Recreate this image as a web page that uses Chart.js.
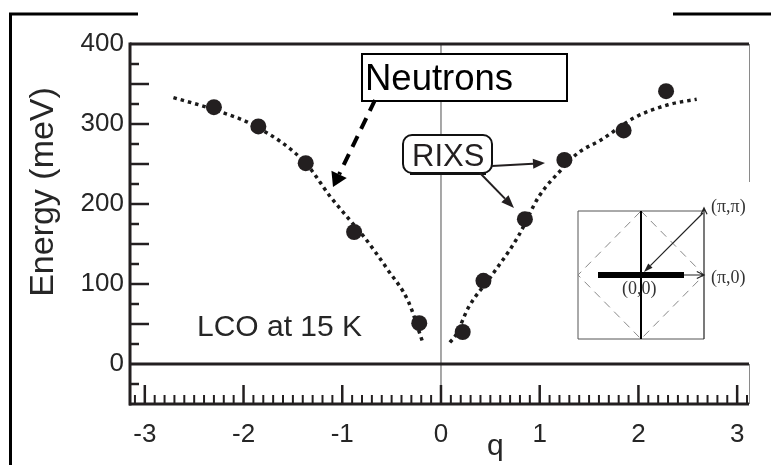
<!DOCTYPE html>
<html>
<head>
<meta charset="utf-8">
<script src="https://cdn.jsdelivr.net/npm/chart.js@4.4.1/dist/chart.umd.min.js"></script>
<style>
  body { margin: 0; background: #fff; }
  canvas { display: block; }
</style>
</head>
<body>
<canvas id="chart" width="771" height="465"></canvas>
<script>
// neutron dispersion (dotted curves)
const neutronLeftQ = [-2.71, -2.30, -1.86, -1.37, -1.12, -0.91, -0.78, -0.54, -0.33, -0.19];
const neutronLeftE = [333, 318, 296, 251, 209, 178, 159, 118, 78, 29];
const neutronRightQ = [0.09, 0.15, 0.28, 0.51, 0.78, 0.99, 1.22, 1.39, 1.62, 1.96, 2.30, 2.59];
const neutronRightE = [27, 36, 71, 110, 159, 209, 243, 264, 280, 308, 324, 331];

// RIXS points (big dots)
const rixsQ = [-2.30, -1.85, -1.37, -0.88, -0.22, 0.22, 0.43, 0.85, 1.25, 1.85, 2.28];
const rixsE = [321, 297, 251, 165, 51, 40, 104, 181, 255, 292, 341];

// axis ticks
const qTickLabels = [-3, -2, -1, 0, 1, 2, 3];
const energyTickLabels = [0, 100, 200, 300, 400];

const ink = "#231f20";
const textColor = "#262626";

function toPoints(xs, ys) {
  return xs.map((x, i) => ({ x: x, y: ys[i] }));
}

// flecha con cabeza rellena
function arrow(ctx, x1, y1, x2, y2, headLen, headW, dash) {
  const ang = Math.atan2(y2 - y1, x2 - x1);
  const bx = x2 - headLen * Math.cos(ang);
  const by = y2 - headLen * Math.sin(ang);
  ctx.setLineDash(dash || []);
  ctx.beginPath();
  ctx.moveTo(x1, y1);
  ctx.lineTo(bx, by);
  ctx.stroke();
  ctx.setLineDash([]);
  ctx.beginPath();
  ctx.moveTo(x2, y2);
  ctx.lineTo(bx + (headW / 2) * Math.sin(ang), by - (headW / 2) * Math.cos(ang));
  ctx.lineTo(bx - (headW / 2) * Math.sin(ang), by + (headW / 2) * Math.cos(ang));
  ctx.closePath();
  ctx.fill();
}

// flecha abierta (inset)
function openArrow(ctx, x1, y1, x2, y2, headLen) {
  const ang = Math.atan2(y2 - y1, x2 - x1);
  ctx.beginPath();
  ctx.moveTo(x1, y1);
  ctx.lineTo(x2, y2);
  ctx.moveTo(x2 - headLen * Math.cos(ang - 0.45), y2 - headLen * Math.sin(ang - 0.45));
  ctx.lineTo(x2, y2);
  ctx.lineTo(x2 - headLen * Math.cos(ang + 0.45), y2 - headLen * Math.sin(ang + 0.45));
  ctx.stroke();
}

function line(ctx, x1, y1, x2, y2) {
  ctx.beginPath();
  ctx.moveTo(x1, y1);
  ctx.lineTo(x2, y2);
  ctx.stroke();
}

const framePlugin = {
  id: "framePlugin",
  beforeDatasetsDraw(chart) {
    const ctx = chart.ctx;
    const a = chart.chartArea;
    const xs = chart.scales.x;
    const ys = chart.scales.y;
    ctx.save();
    // q = 0 line
    ctx.strokeStyle = "#8a8a8a";
    ctx.lineWidth = 1.5;
    const x0 = xs.getPixelForValue(0);
    line(ctx, x0, a.top, x0, a.bottom);
    // E = 0 line
    ctx.strokeStyle = ink;
    ctx.lineWidth = 3;
    const y0 = ys.getPixelForValue(0);
    line(ctx, a.left, y0, a.right, y0);
    ctx.restore();
  },
  afterDraw(chart) {
    const ctx = chart.ctx;
    const a = chart.chartArea;
    const xs = chart.scales.x;
    const ys = chart.scales.y;
    ctx.save();

    // marco de los ejes
    ctx.strokeStyle = ink;
    ctx.lineWidth = 3;
    line(ctx, a.left, a.top, a.right, a.top);
    line(ctx, a.left - 1, a.bottom, a.right, a.bottom);
    line(ctx, a.left, a.top - 1.5, a.left, a.bottom + 1.5);
    ctx.strokeStyle = "#8a8a8a";
    ctx.lineWidth = 1;
    line(ctx, a.right + 0.5, a.top, a.right + 0.5, 182);
    line(ctx, a.right + 0.5, ys.getPixelForValue(0), a.right + 0.5, a.bottom);

    // ticks hacia dentro (x)
    ctx.strokeStyle = ink;
    for (let i = -31; i <= 31; i++) {
      const px = xs.getPixelForValue(i / 10);
      const major = i % 10 === 0;
      ctx.lineWidth = major ? 2.5 : 2;
      line(ctx, px, a.bottom, px, a.bottom - (major ? 19 : 9));
    }
    // ticks hacia dentro (y)
    for (let v = -25; v < 400; v += 25) {
      if (v === 0) continue;
      const py = ys.getPixelForValue(v);
      const major = v % 50 === 0;
      ctx.lineWidth = 2.5;
      line(ctx, a.left, py, a.left + (major ? 19 : 9), py);
    }

    // marco exterior
    ctx.strokeStyle = "#000";
    ctx.lineWidth = 3;
    line(ctx, 9, 14, 138, 14);
    line(ctx, 10.5, 13, 10.5, 465);
    line(ctx, 673, 14, 771, 14);

    // titulo eje y
    ctx.fillStyle = textColor;
    ctx.save();
    ctx.translate(53, 192);
    ctx.rotate(-Math.PI / 2);
    ctx.font = "34px 'Liberation Sans', Arial, sans-serif";
    ctx.textAlign = "center";
    ctx.textBaseline = "alphabetic";
    ctx.fillText("Energy (meV)", 0, 0);
    ctx.restore();

    // titulo eje x
    ctx.font = "30px 'Liberation Sans', Arial, sans-serif";
    ctx.textAlign = "left";
    ctx.textBaseline = "alphabetic";
    ctx.fillText("q", 487, 455);

    // LCO
    ctx.fillText("LCO at 15 K", 197, 336);

    // caja Neutrons
    ctx.fillStyle = "#fff";
    ctx.fillRect(362, 54, 205, 47);
    ctx.strokeStyle = "#000";
    ctx.lineWidth = 2;
    ctx.strokeRect(362, 54, 205, 47);
    ctx.fillStyle = "#000";
    ctx.font = "36.5px 'Liberation Sans', Arial, sans-serif";
    ctx.fillText("Neutrons", 365, 90);

    // flecha discontinua
    ctx.strokeStyle = "#000";
    ctx.fillStyle = "#000";
    ctx.lineWidth = 4;
    arrow(ctx, 375, 100, 333, 187, 14, 17, [12, 8]);

    // caja RIXS
    ctx.beginPath();
    ctx.roundRect(403, 135, 89, 38, 9);
    ctx.fillStyle = "#fff";
    ctx.fill();
    ctx.lineWidth = 2;
    ctx.strokeStyle = "#111";
    ctx.stroke();
    ctx.lineWidth = 2;
    line(ctx, 410, 174, 486, 174);
    ctx.fillStyle = ink;
    ctx.font = "31px 'Liberation Sans', Arial, sans-serif";
    ctx.fillText("RIXS", 412, 166);

    // flechas RIXS
    ctx.lineWidth = 2;
    ctx.strokeStyle = ink;
    arrow(ctx, 492, 166, 545, 163, 12, 10);
    arrow(ctx, 480, 173, 514, 208, 13, 10);

    // inset
    const L = 578, T = 211, R = 704, B = 339;
    const cx = (L + R) / 2, cy = (T + B) / 2;
    ctx.fillStyle = "#fff";
    ctx.fillRect(L, T, R - L, B - T);
    ctx.strokeStyle = "#555";
    ctx.lineWidth = 1;
    line(ctx, L, T, R, T);
    line(ctx, L, T, L, B);
    line(ctx, L, B, R, B);
    ctx.strokeStyle = "#888";
    ctx.setLineDash([8, 6]);
    ctx.beginPath();
    ctx.moveTo(cx, T);
    ctx.lineTo(R, cy);
    ctx.lineTo(cx, B);
    ctx.lineTo(L, cy);
    ctx.closePath();
    ctx.stroke();
    ctx.setLineDash([]);
    ctx.strokeStyle = "#000";
    ctx.lineWidth = 2;
    line(ctx, cx, T, cx, B);
    ctx.fillStyle = "#000";
    ctx.fillRect(598, cy - 3, 86, 6);
    ctx.lineWidth = 1.2;
    ctx.strokeStyle = "#222";
    openArrow(ctx, 684, cy, R, cy, 8);
    openArrow(ctx, R, B, R, T - 3, 7);
    ctx.fillStyle = "#222";
    arrow(ctx, R - 1, T + 2, cx + 3, cy - 3, 9, 6);
    ctx.fillStyle = "#333";
    ctx.font = "18px 'Liberation Serif', 'Times New Roman', serif";
    ctx.textBaseline = "middle";
    ctx.fillText("(\u03c0,\u03c0)", 711, 207);
    ctx.fillText("(\u03c0,0)", 711, 278);
    ctx.fillText("(0,0)", 622, 289);

    ctx.restore();
  },
};

const chart = new Chart(document.getElementById("chart"), {
  type: "scatter",
  data: {
    datasets: [
      {
        label: "RIXS",
        data: toPoints(rixsQ, rixsE),
        pointRadius: 8,
        pointBackgroundColor: ink,
        pointBorderWidth: 0,
        showLine: false,
        order: 0,
      },
      {
        label: "Neutrons",
        data: toPoints(neutronLeftQ, neutronLeftE),
        showLine: true,
        borderColor: "#1a1a1a",
        borderWidth: 3.5,
        borderDash: [3.5, 4],
        pointRadius: 0,
        cubicInterpolationMode: "monotone",
        order: 1,
      },
      {
        label: "Neutrons",
        data: toPoints(neutronRightQ, neutronRightE),
        showLine: true,
        borderColor: "#1a1a1a",
        borderWidth: 3.5,
        borderDash: [3.5, 4],
        pointRadius: 0,
        cubicInterpolationMode: "monotone",
        order: 1,
      },
    ],
  },
  options: {
    responsive: false,
    animation: false,
    layout: { padding: { top: 44, right: 22, left: 0, bottom: 0 } },
    plugins: {
      legend: { display: false },
      tooltip: { enabled: false },
    },
    scales: {
      x: {
        type: "linear",
        min: -3.15,
        max: 3.12,
        grid: { display: false, drawTicks: false },
        border: { display: false },
        afterBuildTicks: (scale) => {
          scale.ticks = qTickLabels.map((v) => ({ value: v }));
        },
        afterFit: (scale) => {
          scale.height = 61;
        },
        ticks: {
          padding: 15,
          color: textColor,
          font: { family: "'Liberation Sans', Arial, sans-serif", size: 26 },
          maxRotation: 0,
          callback: (v) => String(v),
        },
      },
      y: {
        type: "linear",
        min: -50,
        max: 400,
        grid: { display: false, drawTicks: false },
        border: { display: false },
        afterBuildTicks: (scale) => {
          scale.ticks = energyTickLabels.map((v) => ({ value: v }));
        },
        afterFit: (scale) => {
          scale.width = 130;
        },
        ticks: {
          padding: 6,
          color: textColor,
          font: { family: "'Liberation Sans', Arial, sans-serif", size: 26 },
          callback: (v) => String(v),
        },
      },
    },
  },
  plugins: [framePlugin],
});
</script>
</body>
</html>
